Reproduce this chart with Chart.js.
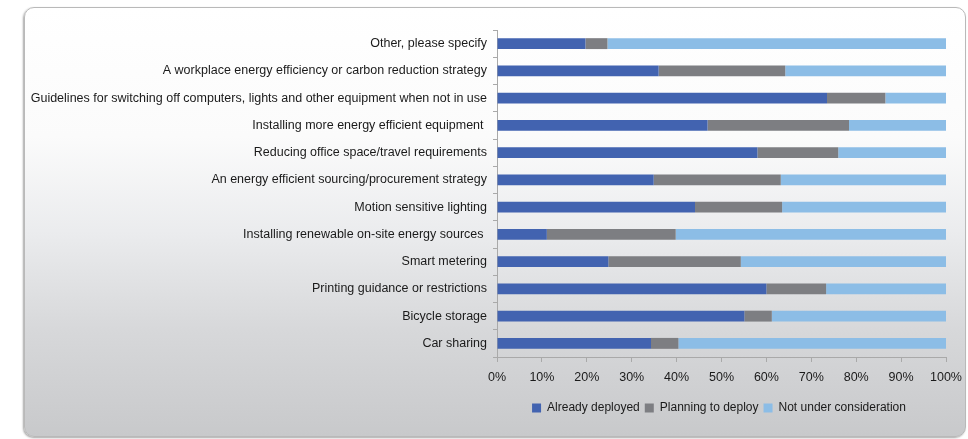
<!DOCTYPE html>
<html>
<head>
<meta charset="utf-8">
<script src="https://cdn.jsdelivr.net/npm/chart.js@4/dist/chart.umd.min.js"></script>
<style>
  html, body { margin: 0; padding: 0; background: #fff; }
  #wrap { position: relative; width: 968px; height: 439px; overflow: hidden; }
  #panel {
    position: absolute; left: 24px; top: 7px; width: 940px; height: 428px;
    border: 1px solid #b9b9b9; border-radius: 10px;
    background: linear-gradient(to bottom, #ffffff 0%, #fbfbfb 30%, #ebecee 52%, #d7d8da 75%, #c8c9cb 100%);
    box-shadow: -1px 1px 2px rgba(0,0,0,0.35);
  }
  #chart { position: absolute; left: 0; top: 0; }
</style>
</head>
<body>
<div id="wrap">
  <div id="panel"></div>
  <canvas id="chart" width="968" height="439"></canvas>
</div>
<script>
const measures = [
  'Other, please specify',
  'A workplace energy efficiency or carbon reduction strategy',
  'Guidelines for switching off computers, lights and other equipment when not in use',
  'Installing more energy efficient equipment ',
  'Reducing office space/travel requirements',
  'An energy efficient sourcing/procurement strategy',
  'Motion sensitive lighting',
  'Installing renewable on-site energy sources ',
  'Smart metering',
  'Printing guidance or restrictions',
  'Bicycle storage',
  'Car sharing'
];
const alreadyDeployed = [19.7, 36.0, 73.5, 46.9, 58.0, 34.9, 44.1, 11.1, 24.8, 60.0, 55.1, 34.3];
const planningToDeploy = [4.9, 28.2, 13.0, 31.5, 18.0, 28.3, 19.4, 28.7, 29.5, 13.3, 6.1, 6.1];
const notUnderConsideration = [75.4, 35.8, 13.5, 21.6, 24.0, 36.8, 36.5, 60.2, 45.7, 26.7, 38.8, 59.6];
const pctTicks = [0, 10, 20, 30, 40, 50, 60, 70, 80, 90, 100];

Chart.defaults.font.family = "'Liberation Sans', Arial, sans-serif";
Chart.defaults.font.size = 12.5;
Chart.defaults.color = '#1a1a1a';

// keep the legend centred under the plot instead of the whole canvas
const legendUnderPlot = {
  id: 'legendUnderPlot',
  afterLayout(chart) {
    const lg = chart.legend;
    const pad = lg.options.labels.padding;
    lg.left = chart.chartArea.left - pad;
    lg.right = chart.chartArea.right;
    lg.adjustHitBoxes();
  }
};

const bar = (label, data, color) => ({
  label: label,
  data: data,
  backgroundColor: color,
  borderWidth: 0,
  barPercentage: 0.8,
  categoryPercentage: 0.5
});

new Chart(document.getElementById('chart'), {
  type: 'bar',
  data: {
    labels: measures,
    datasets: [
      bar('Already deployed', alreadyDeployed, '#4263b0'),
      bar('Planning to deploy', planningToDeploy, '#7d7e82'),
      bar('Not under consideration', notUnderConsideration, '#8cbde6')
    ]
  },
  options: {
    indexAxis: 'y',
    responsive: false,
    animation: false,
    layout: { padding: { left: 24, right: 22, top: 30, bottom: 15 } },
    scales: {
      x: {
        stacked: true,
        min: 0,
        max: 100,
        afterBuildTicks: (s) => { s.ticks = pctTicks.map(v => ({ value: v })); },
        afterFit: (s) => { s.height = 40; s.paddingLeft = 0; s.paddingRight = 0; },
        ticks: { callback: (v) => v + '%', padding: 8, maxRotation: 0 },
        grid: { drawOnChartArea: false, tickLength: 5, color: '#a9a9a9' },
        border: { color: '#a9a9a9' }
      },
      y: {
        stacked: true,
        afterFit: (s) => { s.width = 473; },
        ticks: { padding: 6, autoSkip: false },
        grid: { drawOnChartArea: false, tickLength: 4, color: '#a9a9a9' },
        border: { color: '#a9a9a9' }
      }
    },
    plugins: {
      legend: {
        position: 'bottom',
        labels: { boxWidth: 9, boxHeight: 9, padding: 5, color: '#1a1a1a', font: { size: 12 } }
      },
      tooltip: { enabled: false }
    }
  },
  plugins: [legendUnderPlot]
});
</script>
</body>
</html>
